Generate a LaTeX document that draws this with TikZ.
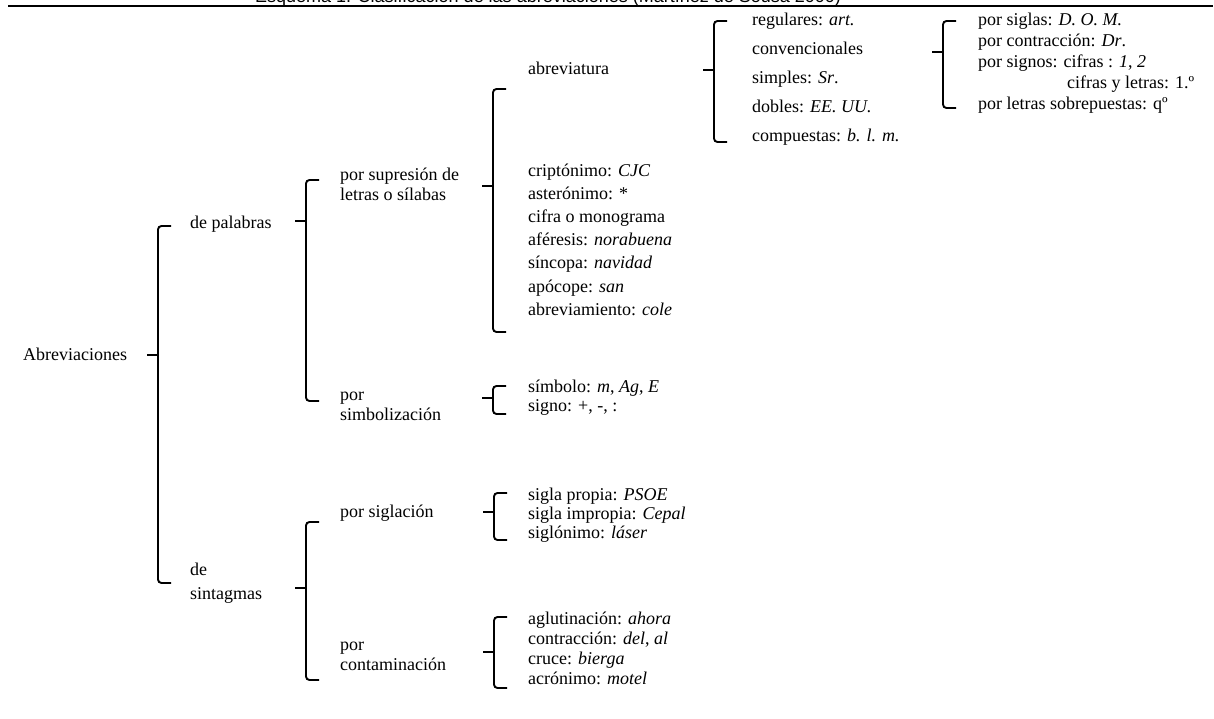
\documentclass[tikz,border=0pt]{standalone}
\usepackage{fontspec}
\setmainfont{Liberation Serif}
\newfontfamily\titlefont{Liberation Sans}
\newcommand\brkt[4]{% x, top, mid, bot
  \draw[brk] (#1+13,#2) -- (#1,#2) -- (#1,#4) -- (#1+13,#4);
  \draw[tick] (#1-11,#3) -- (#1,#3);
}
\begin{document}
\begin{tikzpicture}[x=1pt,y=-1pt,
  lbl/.style={anchor=base west, inner sep=0pt, font=\fontsize{18}{21}\selectfont},
  brk/.style={line width=1.9pt, rounded corners=3.5pt},
  tick/.style={line width=1.9pt}]
\useasboundingbox (0,0) rectangle (1214,719);
% title (cut by the page edge) and rule
\node[anchor=base, inner sep=0pt, font=\titlefont\fontsize{18}{21}\selectfont] (title) at (548,3) {Esquema 1. Clasificación de las abreviaciones (Martínez de Sousa 2000)};
\coordinate (rl) at (8,6);
\coordinate (rr) at (1213,6);
\draw[line width=2pt] (rl) -- (rr);

% level 0
\node[lbl] (abrev) at (23,360) {Abreviaciones};
\brkt{158}{226}{355}{583}

% level 1
\node[lbl] (palabras) at (190,229) {de palabras};
\node[lbl] (de) at (190,575) {de};
\node[lbl] (sintagmas) at (190,599) {sintagmas};
\brkt{306}{180}{221}{401}
\brkt{306}{522}{588}{680}

% level 2
\node[lbl] (sup1) at (340,181) {por supresión de};
\node[lbl] (sup2) at (340,201) {letras o sílabas};
\node[lbl] (sim1) at (340,400) {por};
\node[lbl] (sim2) at (340,420) {simbolización};
\node[lbl] (sigl) at (340,517) {por siglación};
\node[lbl] (con1) at (340,650) {por};
\node[lbl] (con2) at (340,670) {contaminación};
\brkt{493}{89}{186}{332}
\brkt{493}{386}{398}{414}
\brkt{494}{493}{512}{540}
\brkt{494}{617}{652}{688}

% level 3
\node[lbl] (abrvtr) at (528,75) {abreviatura};
\node[lbl] (l1) at (528,177) {criptónimo: \textit{CJC}};
\node[lbl] (l2) at (528,200) {asterónimo: *};
\node[lbl] (l3) at (528,223) {cifra o monograma};
\node[lbl] (l4) at (528,246) {aféresis: \textit{norabuena}};
\node[lbl] (l5) at (528,269) {síncopa: \textit{navidad}};
\node[lbl] (l6) at (528,292) {apócope: \textit{san}};
\node[lbl] (l7) at (528,315) {abreviamiento: \textit{cole}};
\node[lbl] (s1) at (528,392) {símbolo: \textit{m}, \textit{Ag}, \textit{E}};
\node[lbl] (s2) at (528,411) {signo: +, -, :};
\node[lbl] (g1) at (528,500) {sigla propia: \textit{PSOE}};
\node[lbl] (g2) at (528,519) {sigla impropia: \textit{Cepal}};
\node[lbl] (g3) at (528,538) {siglónimo: \textit{láser}};
\node[lbl] (c1) at (528,624) {aglutinación: \textit{ahora}};
\node[lbl] (c2) at (528,644) {contracción: \textit{del}, \textit{al}};
\node[lbl] (c3) at (528,664) {cruce: \textit{bierga}};
\node[lbl] (c4) at (528,684) {acrónimo: \textit{motel}};
\brkt{714}{21}{70}{142}

% level 4
\node[lbl] (r1) at (752,26) {regulares: \textit{art.}};
\node[lbl] (r2) at (752,55) {convencionales};
\node[lbl] (r3) at (752,84) {simples: \textit{Sr}.};
\node[lbl] (r4) at (752,113) {dobles: \textit{EE. UU.}};
\node[lbl] (r5) at (752,142) {compuestas: \textit{b. l. m.}};
\brkt{943}{21}{52}{108}

% level 5
\node[lbl] (p1) at (978,26) {por siglas: \textit{D. O. M.}};
\node[lbl] (p2) at (978,47) {por contracción: \textit{Dr}.};
\node[lbl] (p3) at (978,68) {por signos: cifras : \textit{1}, \textit{2}};
\node[lbl] (p4) at (1067,89) {cifras y letras: 1.º};
\node[lbl] (p5) at (978,110) {por letras sobrepuestas: qº};
\end{tikzpicture}
\end{document}
